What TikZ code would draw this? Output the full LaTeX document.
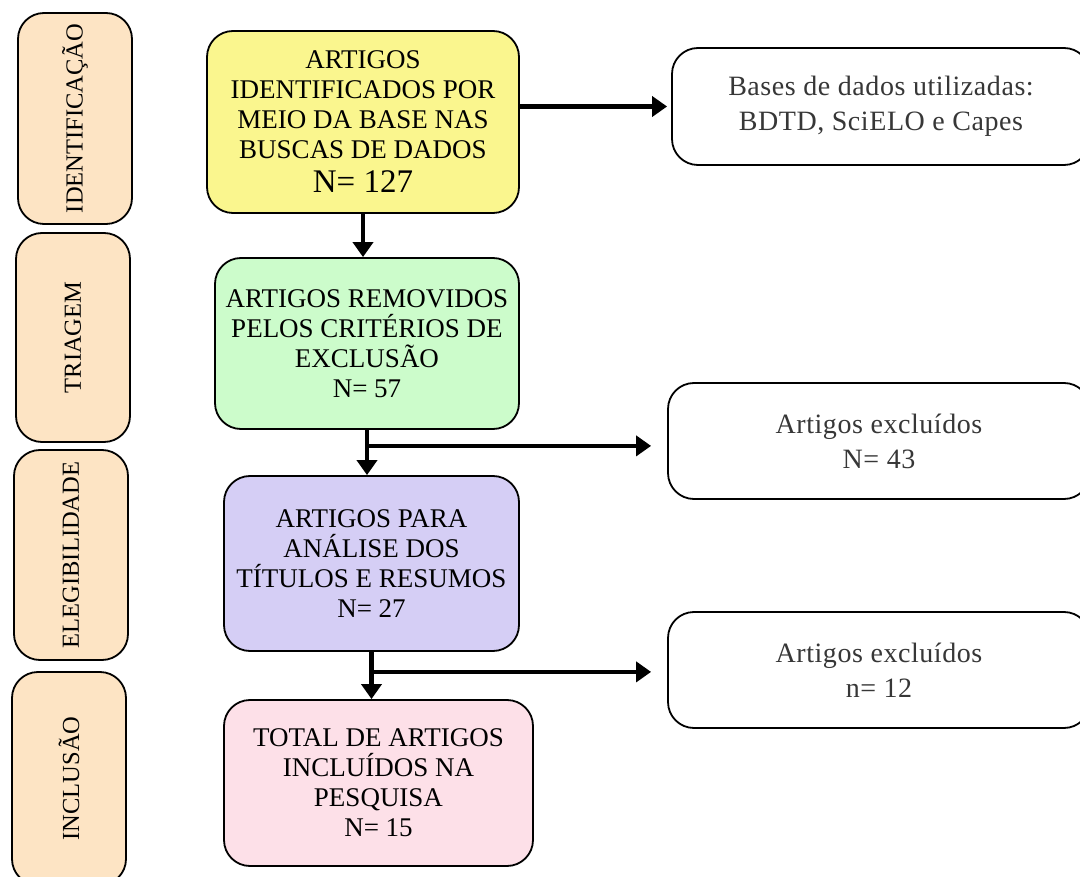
\documentclass[tikz,border=0pt]{standalone}
\usepackage{fontspec}
\setmainfont{Liberation Serif}
\usetikzlibrary{arrows.meta,calc}

\definecolor{pessego}{RGB}{253,228,196}
\definecolor{amarelo}{RGB}{250,246,142}
\definecolor{verde}{RGB}{204,252,203}
\definecolor{lilas}{RGB}{213,206,245}
\definecolor{rosa}{RGB}{253,224,232}
\definecolor{cinza}{RGB}{55,55,55}

\tikzset{
  etapa/.style={draw, line width=1.8pt, fill=pessego, rounded corners=26pt,
    rotate=90, minimum height=114pt, inner sep=0pt,
    font=\fontsize{24.5}{28}\selectfont},
  caixa/.style={draw, line width=1.8pt, rounded corners=26pt, align=center,
    inner sep=0pt, font=\fontsize{27}{30}\selectfont},
  lateral/.style={caixa, fill=white, text=cinza, minimum width=418pt, minimum height=117pt,
    font=\fontsize{28}{35}\selectfont\addfontfeature{LetterSpace=2}},
  seta/.style={line width=4.5pt, -{Triangle[length=15pt,width=20pt]}}
}

\begin{document}
\begin{tikzpicture}[x=1pt, y=-1pt]
    \useasboundingbox (0,0) rectangle (1080,877);
    \clip (0,0) rectangle (1080,877);
    % etapas
    \node[etapa, minimum width=211pt] (s1) at (75,118.5) {IDENTIFICAÇÃO};
    \node[etapa, minimum width=209pt] (s2) at (73,337.5) {TRIAGEM};
    \node[etapa, minimum width=210pt] (s3) at (71,555) {ELEGIBILIDADE};
    \node[etapa, minimum width=213pt] (s4) at (69,778.5) {INCLUSÃO};
    % fluxo principal
    \node[caixa, fill=amarelo, minimum width=312pt, minimum height=182pt] (ident) at (363,122)
      {ARTIGOS\\ IDENTIFICADOS POR\\ MEIO DA BASE NAS\\ BUSCAS DE DADOS\\[4pt]
       {\fontsize{33}{34}\selectfont N= 127}};
    \node[caixa, fill=verde, minimum width=304pt, minimum height=171pt] (triagem) at (367,343.5)
      {ARTIGOS REMOVIDOS\\ PELOS CRITÉRIOS DE\\ EXCLUSÃO\\ N= 57};
    \node[caixa, fill=lilas, minimum width=295pt, minimum height=175pt] (eleg) at (371.5,563.5)
      {ARTIGOS PARA\\ ANÁLISE DOS\\ TÍTULOS E RESUMOS\\ N= 27};
    \node[caixa, fill=rosa, minimum width=309pt, minimum height=166pt] (incl) at (378.5,783)
      {TOTAL DE ARTIGOS\\ INCLUÍDOS NA\\ PESQUISA\\ N= 15};
    % caixas laterais
    \node[lateral] (bases) at (881,106.5) {Bases de dados utilizadas:\\ BDTD, SciELO e Capes};
    \node[lateral, minimum width=422pt, minimum height=116pt] (exc1) at (879,441) {Artigos excluídos\\ N= 43};
    \node[lateral, minimum width=422pt, minimum height=116pt] (exc2) at (879,670) {Artigos excluídos\\ n= 12};
    % setas
    \coordinate (r1) at ($(triagem.south)+(0,16)$);
    \coordinate (r2) at ($(eleg.south)+(0,20)$);
    \draw[seta, shorten >=4pt] (ident.east |- bases.west) -- (bases.west);
    \draw[seta] (ident.south) -- (ident.south |- triagem.north);
    \draw[seta] (triagem.south) -- (triagem.south |- eleg.north);
    \draw[seta, shorten >=16pt] (r1) -- (r1 -| exc1.west);
    \draw[seta] (eleg.south) -- (eleg.south |- incl.north);
    \draw[seta, shorten >=16pt] (r2) -- (r2 -| exc2.west);
\end{tikzpicture}
\end{document}
